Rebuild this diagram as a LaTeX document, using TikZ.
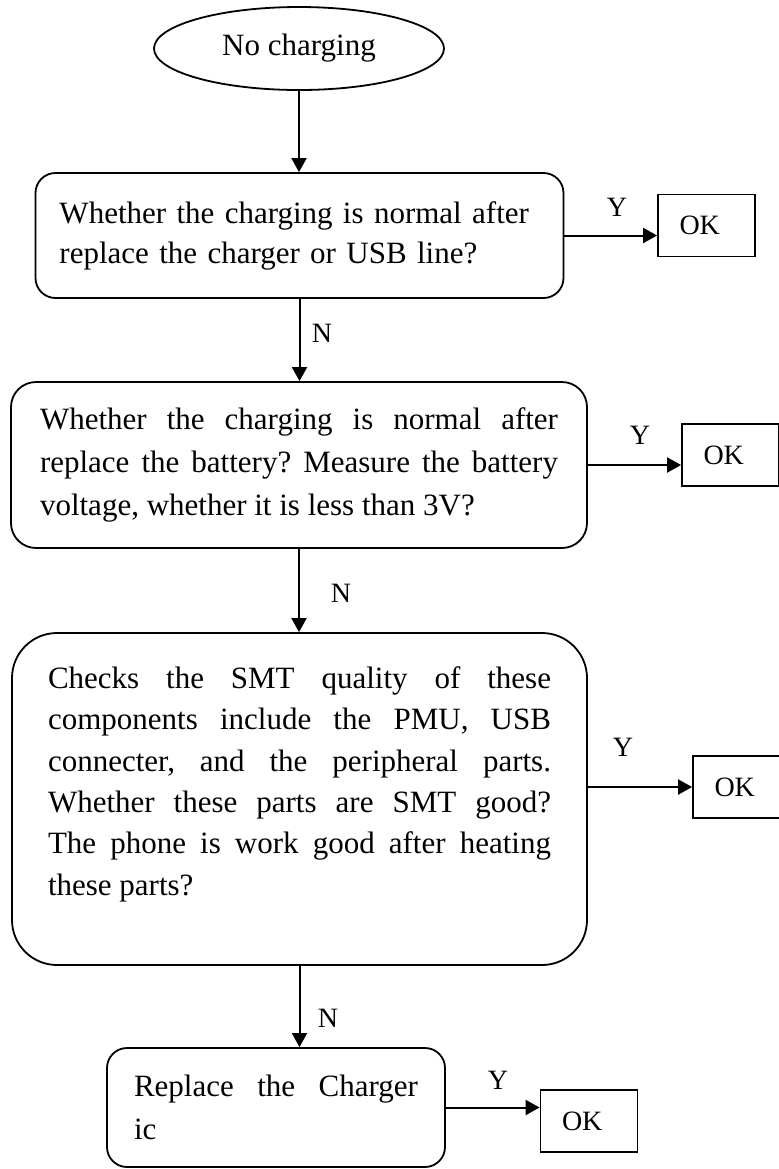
\documentclass[tikz,border=0pt]{standalone}
\usepackage{fontspec}
\setmainfont{Liberation Serif}
\usetikzlibrary{shapes.geometric,arrows.meta}
\frenchspacing

\begin{document}
\begin{tikzpicture}[x=0.5pt, y=-0.5pt,
    stepbox/.style={draw, line width=0.9pt, rounded corners=#1, align=justify, inner ysep=0pt},
    okbox/.style={draw, line width=0.9pt, minimum width=48.5pt, minimum height=31pt,
      text width=27pt, inner xsep=10.75pt, align=left, font=\fontsize{14}{16}\selectfont},
    yn/.style={font=\fontsize{14}{16}\selectfont, inner sep=0pt},
    arr/.style={-{Triangle[length=7pt,width=7.5pt]}, line width=1pt}]
    \useasboundingbox (0,0) rectangle (779,1169);
    % Start
    \node[draw, ellipse, line width=0.9pt, minimum width=145pt, minimum height=41.5pt,
      font=\fontsize{15.5}{20}\selectfont] (start) at (299,48.5) {No charging};
    % Checks
    \node[stepbox=10pt, align=left, minimum width=264pt, minimum height=62.5pt, text width=240pt,
      inner xsep=12pt, font=\fontsize{15.5}{20}\selectfont] (q1) at (299.5,235.5)
      {Whether the charging is normal after\\replace the charger or USB line?};
    \node[stepbox=12.5pt, minimum width=288pt, minimum height=83pt, text width=259pt,
      inner xsep=14.5pt, font=\fontsize{15.5}{21.5}\selectfont] (q2) at (299,465)
      {Whether the charging is normal after\linebreak replace the battery? Measure the battery\linebreak voltage, whether it is less than 3V?};
    \node[stepbox=22.5pt, minimum width=287.5pt, minimum height=166pt, text width=251.5pt,
      inner xsep=18pt, font=\fontsize{15.5}{20.65}\selectfont] (q3) at (299.5,799)
      {Checks the SMT quality of these\linebreak components include the PMU, USB\linebreak connecter, and the peripheral parts.\linebreak Whether these parts are SMT good?\linebreak The phone is work good after heating\linebreak these parts?\rule[-18pt]{0pt}{18pt}};
    \node[stepbox=10pt, minimum width=169pt, minimum height=59.5pt, text width=142pt,
      inner xsep=13.5pt, font=\fontsize{15.5}{21.5}\selectfont] (rep) at (276,1107.5)
      {Replace the Charger\linebreak ic};
    % Results
    \node[okbox] (ok1) at (706.5,225.5) {OK};
    \node[okbox] (ok2) at (730.5,455) {OK};
    \node[okbox] (ok3) at (741.5,787) {OK};
    \node[okbox] (ok4) at (589,1121) {OK};
    % Branch labels
    \node[yn] (y1) at (617,207) {Y};
    \node[yn] (y2) at (640,435) {Y};
    \node[yn] (y3) at (623,747) {Y};
    \node[yn] (y4) at (498,1080) {Y};
    \node[yn] (n1) at (322,333) {N};
    \node[yn] (n2) at (341,593) {N};
    \node[yn] (n3) at (328,1018) {N};
    % Flow
    \draw[arr] (start.south) -- (start.south |- q1.north);
    \draw[arr] (q1.south) -- (q1.south |- q2.north);
    \draw[arr] (q2.south) -- (q2.south |- q3.north);
    \draw[arr] (q3.south) -- (q3.south |- rep.north);
    \draw[arr] (q1.east) -- (q1.east -| ok1.west);
    \draw[arr] (q2.east) -- (q2.east -| ok2.west);
    \draw[arr] (q3.east |- ok3.west) -- (ok3.west);
    \draw[arr] (rep.east) -- (rep.east -| ok4.west);
  \end{tikzpicture}
\end{document}
